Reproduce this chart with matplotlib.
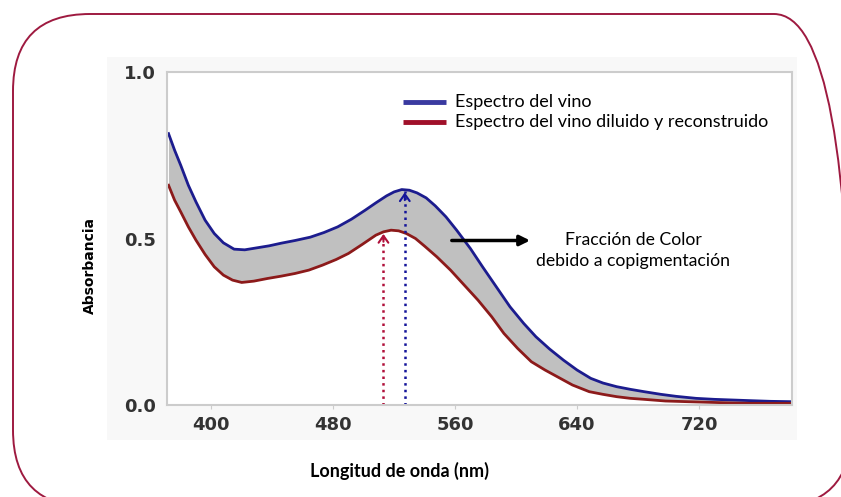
import numpy as np
import matplotlib.pyplot as plt
from matplotlib.patches import FancyBboxPatch, Rectangle

# Spectrum of the wine (blue) - wavelength (nm), absorbance
wl_vino = [372, 376, 380, 385, 390, 396, 402, 408, 415, 422, 430, 438, 446, 455,
           465, 474, 483, 492, 501, 508, 515, 520, 525, 530, 535, 541, 547, 554,
           561, 570, 578, 587, 596, 605, 613, 622, 631, 640, 649, 657, 666, 675,
           684, 695, 705, 718, 730, 742, 754, 767, 780]
abs_vino = [0.815, 0.765, 0.72, 0.66, 0.61, 0.555, 0.515, 0.487, 0.468, 0.466,
            0.472, 0.478, 0.486, 0.494, 0.504, 0.518, 0.535, 0.558, 0.585, 0.607,
            0.628, 0.64, 0.647, 0.645, 0.637, 0.622, 0.598, 0.565, 0.525, 0.47,
            0.415, 0.355, 0.295, 0.245, 0.205, 0.168, 0.135, 0.105, 0.08, 0.066,
            0.055, 0.047, 0.04, 0.032, 0.026, 0.02, 0.017, 0.015, 0.013, 0.011, 0.01]

# Spectrum of the diluted and reconstructed wine (red)
wl_dil = [372, 376, 380, 385, 390, 396, 402, 408, 414, 420, 428, 437, 446, 455,
          464, 473, 482, 490, 499, 508, 513, 518, 523, 528, 534, 540, 548, 557,
          566, 575, 584, 592, 601, 610, 619, 627, 637, 648, 657, 666, 675, 684,
          698, 712, 727, 742, 754, 767, 780]
abs_dil = [0.66, 0.615, 0.58, 0.535, 0.495, 0.452, 0.415, 0.39, 0.375, 0.368,
           0.372, 0.38, 0.387, 0.395, 0.405, 0.42, 0.437, 0.455, 0.482, 0.51,
           0.52, 0.525, 0.523, 0.515, 0.5, 0.477, 0.445, 0.405, 0.36, 0.315,
           0.265, 0.215, 0.17, 0.13, 0.105, 0.085, 0.06, 0.04, 0.032, 0.025,
           0.02, 0.017, 0.012, 0.01, 0.008, 0.006, 0.005, 0.005, 0.005]

legend_labels = ["Espectro del vino", "Espectro del vino diluido y reconstruido"]
peak_vino = (527, 0.647)
peak_dil = (513, 0.522)

txt_font = ["Lato", "DejaVu Sans"]

fig = plt.figure(figsize=(8.41, 4.97), dpi=100)

# rounded frame around the figure (runs off the right and bottom edges)
frame = FancyBboxPatch((0.13, -0.10), 8.38, 4.93, boxstyle="round,pad=0,rounding_size=0.77",
                       transform=fig.dpi_scale_trans, fill=False, edgecolor="#9e1a40",
                       linewidth=1.4, zorder=-2)
fig.patches.append(frame)

# faint background of the embedded chart
bg = Rectangle((107 / 841, 1 - 440 / 497), (797 - 107) / 841, (440 - 57) / 497,
               transform=fig.transFigure, facecolor="#f8f8f8", edgecolor="none", zorder=-2)
fig.patches.append(bg)

ax = fig.add_axes([167 / 841, 1 - 405 / 497, (792 - 167) / 841, (405 - 72) / 497])
ax.set_facecolor("white")

wl_grid = np.linspace(372, 780, 600)
v = np.interp(wl_grid, wl_vino, abs_vino)
d = np.interp(wl_grid, wl_dil, abs_dil)
ax.fill_between(wl_grid, d, v, color="#c0c0c0", lw=0)
ax.plot(wl_vino, abs_vino, color="#1c1c8e", lw=2.0)
ax.plot(wl_dil, abs_dil, color="#8c1a1a", lw=2.0)

# dotted markers at the maxima
ax.plot([peak_dil[0]] * 2, [0, peak_dil[1] - 0.005], ls=":", color="#b0103a", lw=1.8)
ax.plot([peak_vino[0]] * 2, [0, peak_vino[1] - 0.005], ls=":", color="#14149a", lw=1.8)
ax.annotate("", xy=(peak_dil[0], peak_dil[1]), xytext=(peak_dil[0], peak_dil[1] - 0.04),
            arrowprops=dict(arrowstyle="->,head_length=0.5,head_width=0.35", color="#b0103a", lw=1.5))
ax.annotate("", xy=(peak_vino[0], peak_vino[1]), xytext=(peak_vino[0], peak_vino[1] - 0.04),
            arrowprops=dict(arrowstyle="->,head_length=0.5,head_width=0.35", color="#14149a", lw=1.5))

# pointer to the shaded band
ax.annotate("", xy=(611, 0.494), xytext=(556, 0.494),
            arrowprops=dict(arrowstyle="-|>,head_length=0.6,head_width=0.3", color="black", lw=2.5))
ax.text(677, 0.465, "Fracción de Color\ndebido a copigmentación", ha="center", va="center",
        fontsize=12.7, family=txt_font, linespacing=1.4)

# legend drawn as lines + labels
for i, (lab, col) in enumerate(zip(legend_labels, ["#3a3aa0", "#a0102a"])):
    yy = 0.91 - i * 0.06
    ax.plot([526, 554], [yy, yy], color=col, lw=3.5, solid_capstyle="butt")
    ax.text(560, yy, lab, va="center", ha="left", fontsize=13, family=txt_font)

ax.set_xlim(371, 781)
ax.set_ylim(0, 1.0)
ax.set_xticks([400, 480, 560, 640, 720])
ax.set_yticks([0.0, 0.5, 1.0])
ax.set_yticklabels(["0.0", "0.5", "1.0"])
for s in ax.spines.values():
    s.set_color("#cccccc")
    s.set_linewidth(1.5)
ax.tick_params(axis="both", colors="#cccccc", labelcolor="#333333", labelsize=13, length=3)
for lbl in ax.get_xticklabels() + ax.get_yticklabels():
    lbl.set_fontweight("bold")
ax.tick_params(axis="y", length=0, pad=8)
ax.tick_params(axis="x", pad=5)

fig.text(90 / 841, 1 - 265 / 497, "Absorbancia", rotation=90, ha="center", va="center",
         fontsize=10, fontweight="bold")
fig.text(400 / 841, 1 - 471 / 497, "Longitud de onda (nm)", ha="center", va="center",
         fontsize=13, fontweight="bold", family=txt_font)

fig.savefig("out.png", dpi=100)
